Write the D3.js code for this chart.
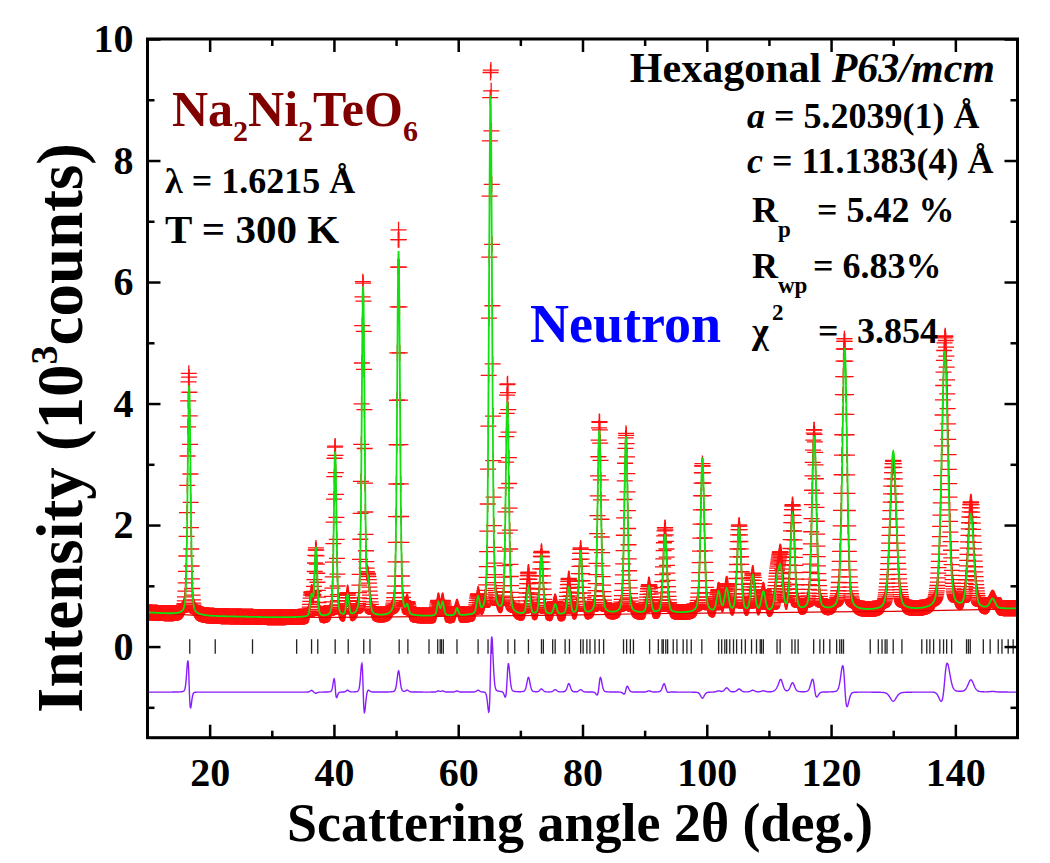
<!DOCTYPE html>
<html>
<head>
<meta charset="utf-8">
<script src="https://cdn.jsdelivr.net/npm/d3@7/dist/d3.min.js"></script>
<style>
body { margin: 0; background: #fff; }
text { font-family: "Liberation Serif", "Times New Roman", serif; font-weight: bold; }
</style>
</head>
<body>
<script>
var peakAngle = [16.7, 36.4, 37.1, 40.2, 42.2, 44.7, 45.5, 50.4, 51.8, 56.8, 57.5, 59.8, 63.2, 65.2, 67.9,
                 71.3, 73.4, 75.6, 77.8, 79.7, 82.7, 87.0, 90.7, 93.3, 99.3, 101.9, 103.2, 105.2, 107.4,
                 109.1, 111.3, 111.9, 113.8, 117.3, 122.2, 130.0, 138.3, 142.5, 146.0];
var peakObs   = [4.5, 0.85, 1.6, 3.3, 0.85, 6.0, 1.0, 6.85, 0.66, 0.74, 0.74, 0.64, 0.8, 9.5, 4.3,
                 1.2, 1.55, 0.72, 1.1, 1.6, 3.7, 3.5, 1.0, 1.95, 3.0, 0.9, 1.0, 1.98, 1.18,
                 0.9, 1.02, 1.4, 2.3, 3.55, 5.05, 3.05, 5.1, 2.35, 0.78];
var peakCalc  = [4.3, 0.82, 1.62, 3.2, 0.82, 5.9, 0.96, 6.5, 0.63, 0.72, 0.72, 0.62, 0.77, 9.05, 4.0,
                 0.96, 1.5, 0.68, 0.96, 1.56, 3.55, 3.45, 0.98, 1.84, 3.1, 0.88, 0.93, 1.93, 1.15,
                 0.88, 0.99, 1.2, 2.15, 3.45, 4.9, 3.2, 4.85, 2.15, 0.77];
var peakFwhm  = [0.55, 0.5, 0.5, 0.5, 0.5, 0.55, 0.6, 0.55, 0.5, 0.5, 0.5, 0.5, 0.55, 0.6, 0.6,
                 0.6, 0.6, 0.6, 0.6, 0.6, 0.65, 0.65, 0.65, 0.7, 0.7, 0.7, 0.75, 0.75, 0.75,
                 0.75, 0.8, 0.8, 0.8, 0.85, 0.9, 1.2, 1.2, 1.1, 1.0];
var peakShift = [-0.04, 0, 0, -0.02, 0, -0.03, 0, 0, 0, 0, 0, 0, 0, 0.03, 0.03,
                 0, 0, 0, 0, 0, 0.02, 0.01, 0, -0.02, 0, 0, 0, 0, 0,
                 0, 0, 0, 0, -0.03, -0.05, 0, 0.06, 0, 0];

// background line
var bgAngle = [10, 20, 30, 40, 50, 60, 70, 80, 90, 100, 110, 120, 130, 140, 150];
var bgLevel = [0.56, 0.50, 0.48, 0.48, 0.49, 0.50, 0.51, 0.52, 0.54, 0.55, 0.56, 0.57, 0.58, 0.60, 0.62];

// Bragg reflection markers
var braggAngle = [16.8, 20.9, 26.9, 34.0, 36.4, 37.4, 40.2, 42.3, 44.8, 45.8, 50.5, 51.9, 55.3, 56.7, 57.1,
                  57.3, 57.6, 59.8, 63.2, 64.8, 65.4, 68.0, 69.1, 71.3, 73.4, 73.7, 75.2, 75.6, 77.2, 77.9,
                  79.7, 80.1, 80.7, 81.2, 82.0, 82.7, 83.4, 86.6, 87.1, 87.7, 88.2, 90.8, 92.2, 92.8, 93.0,
                  93.4, 93.7, 94.6, 95.2, 96.2, 96.8, 97.5, 99.2, 101.9, 102.4, 102.9, 103.2, 103.7, 104.3,
                  104.8, 105.6, 106.2, 107.2, 108.0, 108.6, 108.8, 109.1, 111.3, 111.8, 113.7, 114.2, 114.7,
                  117.2, 118.2, 118.8, 119.8, 120.9, 121.4, 121.7, 122.0, 126.3, 127.6, 128.2, 128.7, 129.0,
                  130.0, 131.4, 134.6, 135.4, 135.9, 136.5, 137.5, 138.1, 138.6, 139.4, 141.8, 142.1, 142.4,
                  144.5, 145.6, 146.9, 147.5, 148.5, 149.3];

var xMajor = [20, 40, 60, 80, 100, 120, 140];
var xMinor = [30, 50, 70, 90, 110, 130];
var yMajor = [0, 2, 4, 6, 8, 10];
var yMinor = [-1, 1, 3, 5, 7, 9];

var diffOffset = -0.75;
var step = 0.05;

var w = 1050, h = 863;
var pL = 147.5, pR = 1017.5, pT = 39, pB = 737.7;

var x = d3.scaleLinear().domain([10, 150]).range([pL, pR]);
var y = d3.scaleLinear().domain([-1.5, 10]).range([pB, pT]);
var bg = d3.scaleLinear().domain(bgAngle).range(bgLevel);

function shape(dx, fw) {
    var t = dx / fw;
    return 0.7 * Math.exp(-4 * Math.LN2 * t * t) + 0.3 / (1 + 4 * t * t);
}

var grid = d3.range(10, 150 + step / 2, step);
var profile = grid.map(function(a) {
    var o = bg(a), c = bg(a);
    peakAngle.forEach(function(p, i) {
        var b = bg(p);
        c += (peakCalc[i] - b) * shape(a - p, peakFwhm[i]);
        o += (peakObs[i] - b) * shape(a - p - peakShift[i], peakFwhm[i]);
    });
    return {a: a, obs: o, calc: c, diff: o - c + diffOffset};
});

var svg = d3.select("body").append("svg")
    .attr("width", w)
    .attr("height", h);

svg.append("rect").attr("width", w).attr("height", h).attr("fill", "#fff");

svg.append("clipPath").attr("id", "plot")
    .append("rect")
    .attr("x", pL).attr("y", pT)
    .attr("width", pR - pL).attr("height", pB - pT);

var plot = svg.append("g").attr("clip-path", "url(#plot)");

// observed points as crosses
plot.append("g")
    .selectAll("path")
    .data(profile)
    .join("path")
    .attr("d", function(d) {
        var px = x(d.a), py = y(d.obs);
        return "M" + (px - 8) + "," + py + "h16M" + px + "," + (py - 8) + "v16";
    })
    .attr("stroke", "#ff1010")
    .attr("stroke-width", 1.3)
    .attr("fill", "none");

// background
plot.append("path")
    .datum(bgAngle)
    .attr("d", d3.line().x(function(d) { return x(d); }).y(function(d) { return y(bg(d)); }))
    .attr("stroke", "#e00000")
    .attr("stroke-width", 1.2)
    .attr("fill", "none");

// calculated
plot.append("path")
    .datum(profile)
    .attr("d", d3.line().x(function(d) { return x(d.a); }).y(function(d) { return y(d.calc); }))
    .attr("stroke", "#10e010")
    .attr("stroke-width", 1.8)
    .attr("fill", "none");

// Bragg markers
plot.append("g")
    .selectAll("line")
    .data(braggAngle)
    .join("line")
    .attr("x1", function(d) { return x(d); })
    .attr("x2", function(d) { return x(d); })
    .attr("y1", y(0.12))
    .attr("y2", y(-0.12))
    .attr("stroke", "#222")
    .attr("stroke-width", 1.3);

// difference
plot.append("path")
    .datum(profile)
    .attr("d", d3.line().x(function(d) { return x(d.a); }).y(function(d) { return y(d.diff); }))
    .attr("stroke", "#8a1cff")
    .attr("stroke-width", 1.4)
    .attr("fill", "none");

// axes
function styleAxis(g) {
    g.select(".domain").remove();
    g.selectAll(".tick line").attr("stroke", "#000").attr("stroke-width", 2.5);
    g.selectAll(".tick text")
        .attr("font-family", "Liberation Serif, Times New Roman, serif")
        .attr("font-weight", "bold")
        .attr("font-size", 40)
        .attr("fill", "#000");
}

svg.append("g").attr("transform", "translate(0," + pB + ")")
    .call(d3.axisBottom(x).tickValues(xMajor).tickSize(-13).tickPadding(20).tickFormat(d3.format("d")))
    .call(styleAxis);
svg.append("g").attr("transform", "translate(0," + pB + ")")
    .call(d3.axisBottom(x).tickValues(xMinor).tickSize(-7).tickFormat(""))
    .call(styleAxis);
svg.append("g").attr("transform", "translate(0," + pT + ")")
    .call(d3.axisTop(x).tickValues(xMajor).tickSize(-13).tickFormat(""))
    .call(styleAxis);
svg.append("g").attr("transform", "translate(0," + pT + ")")
    .call(d3.axisTop(x).tickValues(xMinor).tickSize(-7).tickFormat(""))
    .call(styleAxis);

svg.append("g").attr("transform", "translate(" + pL + ",0)")
    .call(d3.axisLeft(y).tickValues(yMajor).tickSize(-13).tickPadding(14).tickFormat(d3.format("d")))
    .call(styleAxis);
svg.append("g").attr("transform", "translate(" + pL + ",0)")
    .call(d3.axisLeft(y).tickValues(yMinor).tickSize(-7).tickFormat(""))
    .call(styleAxis);
svg.append("g").attr("transform", "translate(" + pR + ",0)")
    .call(d3.axisRight(y).tickValues(yMajor).tickSize(-13).tickFormat(""))
    .call(styleAxis);
svg.append("g").attr("transform", "translate(" + pR + ",0)")
    .call(d3.axisRight(y).tickValues(yMinor).tickSize(-7).tickFormat(""))
    .call(styleAxis);

svg.append("rect")
    .attr("x", pL).attr("y", pT)
    .attr("width", pR - pL).attr("height", pB - pT)
    .attr("fill", "none").attr("stroke", "#000").attr("stroke-width", 3);

// axis titles
svg.append("text")
    .attr("x", 580).attr("y", 841)
    .attr("text-anchor", "middle")
    .attr("font-size", 54)
    .text("Scattering angle 2\u03b8 (deg.)");

var yl = svg.append("text")
    .attr("transform", "translate(82,428) rotate(-90)")
    .attr("text-anchor", "middle")
    .attr("font-size", 65);
yl.append("tspan").text("Intensity (10");
yl.append("tspan").attr("dy", -25).attr("font-size", 38).text("3");
yl.append("tspan").attr("dy", 25).text("counts)");

// annotations
var f = svg.append("text").attr("x", 172).attr("y", 126).attr("font-size", 50).attr("fill", "#800000");
f.append("tspan").text("Na");
f.append("tspan").attr("dy", 15).attr("font-size", 30).text("2");
f.append("tspan").attr("dy", -15).text("Ni");
f.append("tspan").attr("dy", 15).attr("font-size", 30).text("2");
f.append("tspan").attr("dy", -15).text("TeO");
f.append("tspan").attr("dy", 15).attr("font-size", 30).text("6");

svg.append("text").attr("x", 165).attr("y", 193).attr("font-size", 36).text("\u03bb = 1.6215 \u00c5");
svg.append("text").attr("x", 165).attr("y", 243).attr("font-size", 41).text("T = 300 K");

var hx = svg.append("text").attr("x", 995).attr("y", 82).attr("text-anchor", "end").attr("font-size", 42);
hx.append("tspan").text("Hexagonal ");
hx.append("tspan").attr("font-style", "italic").text("P63/mcm");

var ta = svg.append("text").attr("x", 747).attr("y", 128).attr("font-size", 36);
ta.append("tspan").attr("font-style", "italic").text("a");
ta.append("tspan").text(" = 5.2039(1) \u00c5");

var tc = svg.append("text").attr("x", 747).attr("y", 173).attr("font-size", 36);
tc.append("tspan").attr("font-style", "italic").text("c");
tc.append("tspan").text(" = 11.1383(4) \u00c5");

svg.append("text").attr("x", 752).attr("y", 222).attr("font-size", 36).text("R");
svg.append("text").attr("x", 778).attr("y", 237).attr("font-size", 23).text("p");
svg.append("text").attr("x", 817).attr("y", 222).attr("font-size", 36).text("= 5.42 %");

svg.append("text").attr("x", 752).attr("y", 278).attr("font-size", 36).text("R");
svg.append("text").attr("x", 778).attr("y", 293).attr("font-size", 23).text("wp");
svg.append("text").attr("x", 813).attr("y", 278).attr("font-size", 36).text("= 6.83%");

svg.append("text").attr("x", 752).attr("y", 343).attr("font-size", 36).text("\u03c7");
svg.append("text").attr("x", 772).attr("y", 320).attr("font-size", 23).text("2");
svg.append("text").attr("x", 818).attr("y", 343).attr("font-size", 36).text("=");
svg.append("text").attr("x", 857).attr("y", 343).attr("font-size", 36).text("3.854");

svg.append("text").attr("x", 530).attr("y", 342).attr("font-size", 54).attr("fill", "#0000ff").text("Neutron");
</script>
</body>
</html>
